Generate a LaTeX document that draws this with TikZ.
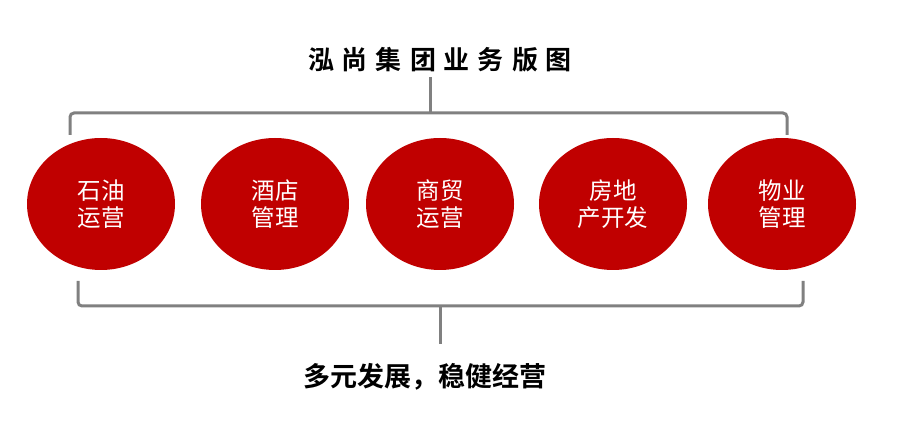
\documentclass[tikz,border=0pt]{standalone}
\usepackage{fontspec}
\newfontfamily\cjk{Noto Sans CJK SC}
\newfontfamily\cjkb{Noto Sans CJK SC Bold}
\usetikzlibrary{shapes.geometric}
\definecolor{cred}{HTML}{C00000}
\definecolor{bgray}{HTML}{808080}
\tikzset{
  biz/.style={ellipse, fill=cred, minimum width=148pt, minimum height=132pt, inner sep=0pt,
    text=white, align=center, font=\cjk\fontsize{23.5pt}{27.5pt}\selectfont},
  brace/.style={draw=bgray, line width=3pt, rounded corners=4pt},
  ttl/.style={font=\cjkb\fontsize{26pt}{30pt}\selectfont, text=black}
}
\begin{document}
\begin{tikzpicture}[x=1pt,y=1pt]
\useasboundingbox (0,0) rectangle (904,428);
\node[biz] (a) at (101,224) {石油\\运营};
\node[biz] (b) at (275,224) {酒店\\管理};
\node[biz] (c) at (440,224) {商贸\\运营};
\node[biz] (d) at (613,224) {房地\\产开发};
\node[biz] (e) at (782,224) {物业\\管理};
\node[ttl] (t) at (440,368) {泓\hspace{8pt}尚\hspace{8pt}集\hspace{8pt}团\hspace{8pt}业\hspace{8pt}务\hspace{8pt}版\hspace{8pt}图};
\node[ttl, font=\cjkb\fontsize{27pt}{30pt}\selectfont] (s) at (425,51) {多元发展，稳健经营};
\coordinate (tl) at (70,293);
\coordinate (tr) at (787,293);
\coordinate (tm) at (430,315);
\coordinate (tt) at (430,351);
\draw[brace] (tl) -- (70,315) -- (tr|-tm) -- (tr);
\draw[draw=bgray, line width=3pt] (tm) -- (tt);
\coordinate (bl) at (78,147);
\coordinate (br) at (803,147);
\coordinate (bm) at (440,122);
\coordinate (bb) at (440,84);
\draw[brace] (bl) -- (78,122) -- (br|-bm) -- (br);
\draw[draw=bgray, line width=3pt] (bm) -- (bb);
\end{tikzpicture}
\end{document}
